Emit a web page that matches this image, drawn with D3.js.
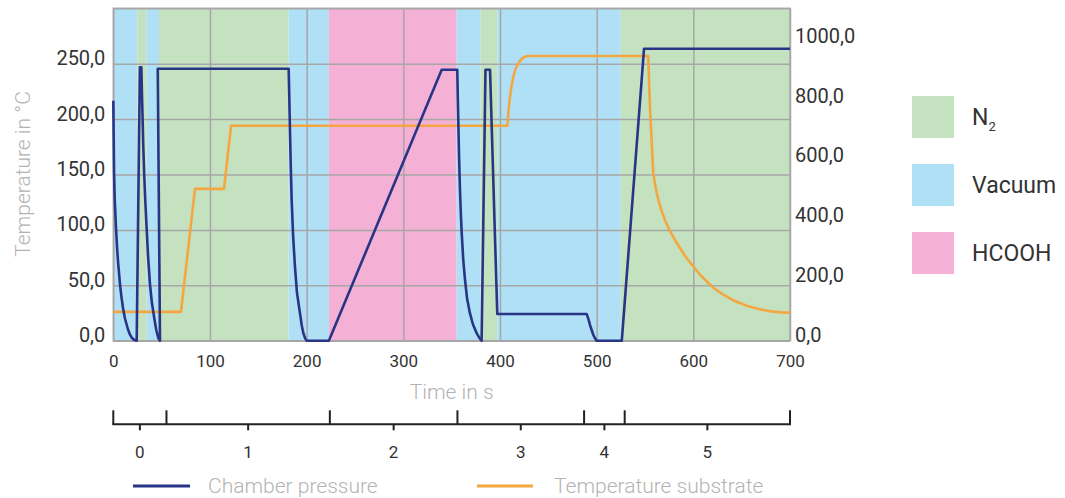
<!DOCTYPE html>
<html>
<head>
<meta charset="utf-8">
<script src="https://cdn.jsdelivr.net/npm/d3@7"></script>
<style>
  body { margin: 0; background: #fff; }
  text { font-family: Roboto, "Liberation Sans", Arial, sans-serif; }
</style>
</head>
<body>
<div id="chart"></div>
<script>
var svgWidth = 1065;
var svgHeight = 498;

var margin = { top: 8.3, right: 275, bottom: 157.3, left: 113.3 };
var width = svgWidth - margin.left - margin.right;
var height = svgHeight - margin.top - margin.bottom;

// gas atmosphere bands (seconds)
var bandEdges = [0, 25, 34.5, 47.3, 181.4, 223, 355.2, 380, 397.2, 525, 700];
var bandGas = ["Vacuum", "N2", "Vacuum", "N2", "Vacuum", "HCOOH", "Vacuum", "N2", "Vacuum", "N2"];
var gasNames = ["N2", "Vacuum", "HCOOH"];
var gasColors = ["#c4e2c0", "#b0e0f5", "#f5b0d6"];

// chamber pressure (right axis)
var pressureTime = [0, 0.4, 0.8, 1.5, 2.8, 4, 5, 7, 8.5, 10, 12, 15, 17, 19, 21.5, 24.2,
  27.5, 29, 29.6, 30.3, 31, 32, 33.2, 34.5, 36, 38, 40, 42.4, 44.5, 46.6, 48.3,
  46, 181.4, 182, 182.8, 183.6, 184.5, 186, 187.9, 190, 193.1, 195, 196.6, 198.5, 200, 223,
  339.7, 355.8, 356.3, 356.9, 357.7, 358.6, 359.5, 360.4, 362, 363.8, 366, 368.9, 372, 375.9, 378.5, 381,
  385, 389.7, 397.2, 489.7, 491.5, 493.1, 495, 496.6, 498.5, 500, 526, 549, 700];
var pressureValue = [801, 680, 560, 470, 375, 305, 260, 186, 145, 110, 75, 40, 22, 10, 3, 0,
  913, 913, 830, 742, 650, 553, 460, 375, 280, 186, 125, 75, 35, 8, 0,
  908, 908, 820, 695, 580, 472, 350, 248, 160, 92, 50, 25, 8, 0, 0,
  905, 905, 820, 729, 610, 505, 425, 360, 270, 204, 140, 92, 55, 25, 10, 0,
  905, 905, 89, 89, 72, 53, 34, 19, 7, 0, 0, 975, 975];

// substrate temperature (left axis)
var tempTime = [0, 70, 84.5, 114.5, 121.8,
  407.6, 408.5, 409.5, 410.3, 412, 413.8, 416, 418.9, 421.5, 424.1, 426.5, 429.3,
  553.4, 553.8, 554.5, 555.3, 556.2, 557.3, 558.6, 560.2, 562, 564.5, 567.3, 571, 575.2,
  581, 587, 593, 600, 607, 613.8, 622, 631, 640, 648.2, 657, 665.5, 674, 682.8, 691, 700];
var tempValue = [26, 26, 137, 137, 194,
  194, 204, 213, 220, 230, 238, 245, 250, 253.5, 255.5, 256.5, 257,
  257, 245, 226, 208, 192, 172, 151, 142, 134, 125, 117, 108, 100,
  91, 82.5, 74.5, 67, 59.5, 53.5, 47, 41.5, 37, 34, 31, 29, 27.5, 26.2, 25.6, 25.3];

var xTicks = [0, 100, 200, 300, 400, 500, 600, 700];
var tempTicks = [0, 50, 100, 150, 200, 250];
var tempGrid = [0, 50, 100, 150, 200, 250, 300];
var pressureTicks = [0, 200, 400, 600, 800, 1000];

// process steps below the chart
var phaseEdges = [0, 55, 224, 356, 487, 529, 700];
var phaseLabels = ["0", "1", "2", "3", "4", "5"];

var svg = d3.select("#chart")
  .append("svg")
  .attr("width", svgWidth)
  .attr("height", svgHeight);

var chartGroup = svg.append("g")
  .attr("transform", `translate(${margin.left}, ${margin.top})`);

var xScale = d3.scaleLinear().domain([0, 700]).range([0, width]);
var yTemp = d3.scaleLinear().domain([0, 300]).range([height, 0]);
var yPress = d3.scaleLinear().domain([0, 1110]).range([height, 0]);
var gasColor = d3.scaleOrdinal().domain(gasNames).range(gasColors);

var comma = v => d3.format(".1f")(v).replace(".", ",");

// background bands
chartGroup.append("g").selectAll("rect")
  .data(bandGas)
  .enter()
  .append("rect")
  .attr("x", (d, i) => xScale(bandEdges[i]))
  .attr("width", (d, i) => xScale(bandEdges[i + 1]) - xScale(bandEdges[i]))
  .attr("y", 0)
  .attr("height", height)
  .attr("fill", d => gasColor(d));

// grid
var gridColor = "#a7a7a7";
var gx = chartGroup.append("g")
  .attr("transform", `translate(0, ${height})`)
  .call(d3.axisBottom(xScale).tickValues(xTicks).tickSize(-height).tickFormat(""));
var gy = chartGroup.append("g")
  .call(d3.axisLeft(yTemp).tickValues(tempGrid).tickSize(-width).tickFormat(""));
[gx, gy].forEach(g => {
  g.select(".domain").remove();
  g.selectAll("line").attr("stroke", gridColor).attr("stroke-width", 1.5);
});
chartGroup.append("rect")
  .attr("width", width)
  .attr("height", height)
  .attr("fill", "none")
  .attr("stroke", gridColor)
  .attr("stroke-width", 1.5);

// lines
var pressureLine = d3.line()
  .x((d, i) => xScale(pressureTime[i]))
  .y(d => yPress(d));
var tempLine = d3.line()
  .x((d, i) => xScale(tempTime[i]))
  .y(d => yTemp(d));

chartGroup.append("path")
  .datum(tempValue)
  .attr("d", tempLine)
  .attr("fill", "none")
  .attr("stroke", "#f4a640")
  .attr("stroke-width", 2.6)
  .attr("stroke-linejoin", "round");

chartGroup.append("path")
  .datum(pressureValue)
  .attr("d", pressureLine)
  .attr("fill", "none")
  .attr("stroke", "#283587")
  .attr("stroke-width", 2.6)
  .attr("stroke-linejoin", "round");

// axes labels
var leftAxis = chartGroup.append("g")
  .call(d3.axisLeft(yTemp).tickValues(tempTicks).tickSize(0).tickPadding(8).tickFormat(comma));
var rightAxis = chartGroup.append("g")
  .attr("transform", `translate(${width}, 0)`)
  .call(d3.axisRight(yPress).tickValues(pressureTicks).tickSize(0).tickPadding(5).tickFormat(comma));
var bottomAxis = chartGroup.append("g")
  .attr("transform", `translate(0, ${height})`)
  .call(d3.axisBottom(xScale).tickValues(xTicks).tickSize(0).tickPadding(14));

[leftAxis, rightAxis, bottomAxis].forEach(g => {
  g.select(".domain").remove();
  g.selectAll("text").attr("fill", "#333").style("font-family", "Roboto, 'Liberation Sans', sans-serif");
});
leftAxis.selectAll("text").attr("font-size", 20).attr("transform", "translate(0,-5.5)");
rightAxis.selectAll("text").attr("font-size", 20).attr("transform", "translate(0,-5.5)");
bottomAxis.selectAll("text").attr("font-size", 17);

chartGroup.append("text")
  .attr("transform", `translate(${23 - margin.left}, ${174 - margin.top}) rotate(-90)`)
  .attr("text-anchor", "middle")
  .attr("dy", "0.35em")
  .attr("font-size", 21)
  .attr("font-weight", 300)
  .attr("fill", "#b3b3b3")
  .text("Temperature in °C");

chartGroup.append("text")
  .attr("x", width / 2)
  .attr("y", 392 - margin.top)
  .attr("dy", "0.35em")
  .attr("text-anchor", "middle")
  .attr("font-size", 21)
  .attr("font-weight", 300)
  .attr("fill", "#b3b3b3")
  .text("Time in s");

// step bracket
var by = 424.3 - margin.top;
var bracket = chartGroup.append("g").attr("stroke", "#222").attr("stroke-width", 2);
bracket.append("line")
  .attr("x1", xScale(0) - 1).attr("x2", xScale(700) + 1)
  .attr("y1", by).attr("y2", by);
bracket.selectAll(".edge")
  .data(phaseEdges)
  .enter()
  .append("line")
  .attr("class", "edge")
  .attr("x1", d => xScale(d)).attr("x2", d => xScale(d))
  .attr("y1", by - 14).attr("y2", by);
bracket.selectAll(".mid")
  .data(phaseLabels)
  .enter()
  .append("line")
  .attr("class", "mid")
  .attr("x1", (d, i) => xScale((phaseEdges[i] + phaseEdges[i + 1]) / 2))
  .attr("x2", (d, i) => xScale((phaseEdges[i] + phaseEdges[i + 1]) / 2))
  .attr("y1", by).attr("y2", by + 6);

chartGroup.append("g").selectAll("text")
  .data(phaseLabels)
  .enter()
  .append("text")
  .attr("x", (d, i) => xScale((phaseEdges[i] + phaseEdges[i + 1]) / 2))
  .attr("y", by + 27.5)
  .attr("dy", "0.35em")
  .attr("text-anchor", "middle")
  .attr("font-size", 17)
  .attr("fill", "#333")
  .text(d => d);

// bottom legend
var lineLegend = svg.append("g");
[["Chamber pressure", "#283587", 133, 190, 208], ["Temperature substrate", "#f4a640", 477, 533, 554]]
  .forEach(item => {
    lineLegend.append("line")
      .attr("x1", item[2]).attr("x2", item[3])
      .attr("y1", 486).attr("y2", 486)
      .attr("stroke", item[1]).attr("stroke-width", 3);
    lineLegend.append("text")
      .attr("x", item[4]).attr("y", 486)
      .attr("dy", "0.35em")
      .attr("font-size", 21)
      .attr("font-weight", 300)
      .attr("fill", "#b3b3b3")
      .text(item[0]);
  });

// gas legend
var gasLegend = svg.append("g").attr("transform", "translate(912, 96)");
var gasItem = gasLegend.selectAll("g")
  .data(gasNames)
  .enter()
  .append("g")
  .attr("transform", (d, i) => `translate(0, ${i * 68})`);
gasItem.append("rect")
  .attr("width", 42)
  .attr("height", 42)
  .attr("fill", d => gasColor(d));
var gasText = gasItem.append("text")
  .attr("x", 60)
  .attr("y", 21)
  .attr("dy", "0.35em")
  .attr("font-size", 23)
  .attr("fill", "#333");
gasText.each(function(d) {
  var t = d3.select(this);
  if (d === "N2") {
    t.append("tspan").text("N");
    t.append("tspan").attr("font-size", 13).attr("dy", "0.45em").text("2");
  } else {
    t.text(d);
  }
});
</script>
</body>
</html>
